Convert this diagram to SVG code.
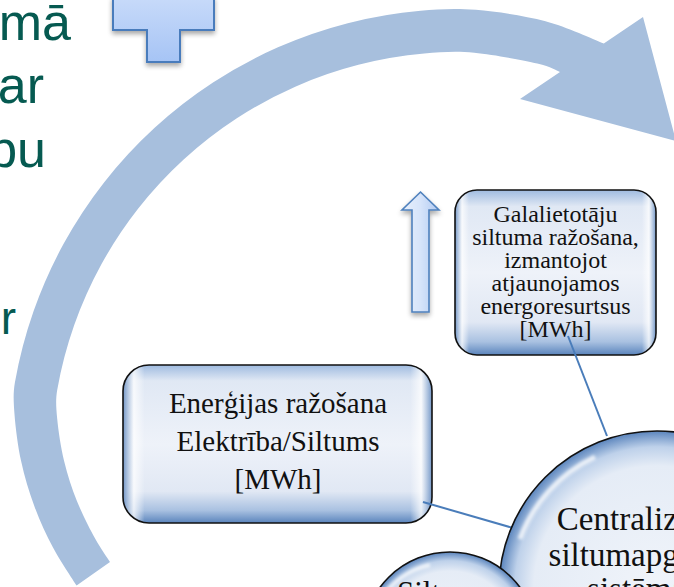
<svg xmlns="http://www.w3.org/2000/svg" width="674" height="587" viewBox="0 0 674 587">
<style>
.lt{font-family:"Liberation Sans",Arial,sans-serif;fill:#065a51}
.bt{font-family:"Liberation Serif","Times New Roman",serif;fill:#111;text-anchor:middle}
.edge{stroke:#111;stroke-width:1.6;fill:none}
.conn{stroke:#4a7dba;stroke-width:2;fill:none}
</style>
<defs>
<linearGradient id="boxV" x1="0" y1="0" x2="0" y2="1">
<stop offset="0" stop-color="#9fbbe0"/>
<stop offset="0.1" stop-color="#e0e8f4"/>
<stop offset="0.5" stop-color="#eef2f9"/>
<stop offset="0.8" stop-color="#e1e8f4"/>
<stop offset="0.92" stop-color="#a9c1e1"/>
<stop offset="1" stop-color="#5a84bc"/>
</linearGradient>
<linearGradient id="boxH" x1="0" y1="0" x2="1" y2="0">
<stop offset="0" stop-color="#5f88bf" stop-opacity="0.85"/>
<stop offset="0.035" stop-color="#ffffff" stop-opacity="0.75"/>
<stop offset="0.07" stop-color="#ffffff" stop-opacity="0"/>
<stop offset="0.93" stop-color="#ffffff" stop-opacity="0"/>
<stop offset="0.965" stop-color="#ffffff" stop-opacity="0.75"/>
<stop offset="1" stop-color="#5f88bf" stop-opacity="0.85"/>
</linearGradient>
<radialGradient id="circ" cx="0.5" cy="0.5" r="0.5">
<stop offset="0" stop-color="#f0f4fa"/>
<stop offset="0.78" stop-color="#e5ecf6"/>
<stop offset="0.9" stop-color="#bed1ea"/>
<stop offset="1" stop-color="#5b85bd"/>
</radialGradient>
<linearGradient id="crossG" x1="0" y1="0" x2="0" y2="1">
<stop offset="0" stop-color="#dbe7fc"/>
<stop offset="1" stop-color="#a6c4f5"/>
</linearGradient>
<linearGradient id="upG" x1="0" y1="0" x2="1" y2="0">
<stop offset="0" stop-color="#e8f0fc"/>
<stop offset="0.5" stop-color="#d6e4fa"/>
<stop offset="1" stop-color="#b0c9f1"/>
</linearGradient>
<filter id="sh" x="-30%" y="-30%" width="160%" height="160%">
<feGaussianBlur in="SourceAlpha" stdDeviation="2.5"/>
<feOffset dy="3" result="o"/>
<feComponentTransfer in="o" result="s"><feFuncA type="linear" slope="0.35"/></feComponentTransfer>
<feMerge><feMergeNode in="s"/><feMergeNode in="SourceGraphic"/></feMerge>
</filter>
<filter id="soft" x="-20%" y="-20%" width="140%" height="140%"><feGaussianBlur stdDeviation="1.5"/></filter>
</defs>

<g id="left-text">
<text class="lt" x="71" y="40" font-size="52" text-anchor="end">mā</text>
<text class="lt" x="44" y="103" font-size="52" text-anchor="end">ar</text>
<text class="lt" x="46" y="167" font-size="52" text-anchor="end">bu</text>
<text class="lt" x="16" y="334" font-size="46" text-anchor="end">r</text>
</g>

<g id="circular-arrow">
<path fill="#a7bfdd" d="M76.6,585.6 C72.7,579.3 60.1,560.8 53,547.5 C45.9,534.2 39.5,520.1 34.2,505.7 C28.9,491.3 24.4,476.3 21.1,461 C17.8,445.8 15.5,427.3 14.5,414.2 C13.5,401.1 13.1,393 14.9,382.5 A452,452 0 0 1 420.6,10.7 C438.5,9.1 455,8.05 475.8,9.8 C496.6,11.55 524.2,15.6 545.5,21.2 C566.8,26.8 594.1,39.7 603.8,43.4 L643,17 L676,141 L520,99 L560,72 C556.2,70.6 551.6,66.7 537.3,63.5 C523,60.3 493.1,54.4 474.3,52.7 C455.5,51.05 441.2,52.1 424.3,53.6 A409,409 0 0 0 57.2,390 C55.6,399.4 56.05,406.9 57.2,418.7 C58.35,430.5 60.8,447.25 64.1,461 C67.4,474.75 71.8,488.3 77,501.2 C82.2,514.1 89.6,528.5 95.1,538.6 C100.6,548.7 107.5,558.1 110,562 Z"/>
</g>

<g id="plus">
<path filter="url(#sh)" fill="url(#crossG)" stroke="#4a7cbc" stroke-width="2" d="M147,-40 L180,-40 L180,-3 L214,-3 L214,30 L180,30 L180,62 L147,62 L147,30 L113,30 L113,-3 L147,-3 Z"/>
</g>

<g id="up-arrow">
<path filter="url(#sh)" fill="url(#upG)" stroke="#4f81bd" stroke-width="1.6" d="M420.5,192 L439,210 L429,210 L429,312 L412,312 L412,210 L402,210 Z"/>
</g>

<g id="box-energy">
<rect x="123" y="365" width="309" height="158" rx="26" fill="url(#boxV)"/>
<rect x="123" y="365" width="309" height="158" rx="26" fill="url(#boxH)"/>
<rect x="123" y="365" width="309" height="158" rx="26" class="edge"/>
<text class="bt" x="278" y="413" font-size="29">Enerģijas ražošana</text>
<text class="bt" x="278" y="451" font-size="29">Elektrība/Siltums</text>
<text class="bt" x="278" y="489" font-size="29">[MWh]</text>
</g>

<g id="box-enduser">
<rect x="455" y="190" width="201" height="165" rx="22" fill="url(#boxV)"/>
<rect x="455" y="190" width="201" height="165" rx="22" fill="url(#boxH)"/>
<rect x="455" y="190" width="201" height="165" rx="22" class="edge"/>
<text class="bt" x="555.5" y="222" font-size="24">Galalietotāju</text>
<text class="bt" x="555.5" y="245" font-size="24">siltuma ražošana,</text>
<text class="bt" x="555.5" y="268" font-size="24">izmantojot</text>
<text class="bt" x="555.5" y="291" font-size="24">atjaunojamos</text>
<text class="bt" x="555.5" y="314" font-size="24">energoresurtsus</text>
<text class="bt" x="555.5" y="337" font-size="24">[MWh]</text>
</g>

<g id="connectors">
<line class="conn" x1="568" y1="336" x2="607" y2="436"/>
<line class="conn" x1="423" y1="502" x2="513" y2="528"/>
</g>

<g id="circle-central">
<circle cx="657" cy="589" r="158" fill="url(#circ)"/>
<path d="M520,539 A146,146 0 0 1 595,457" stroke="#ffffff" stroke-width="5" stroke-opacity="0.75" fill="none" filter="url(#soft)"/>
<circle cx="657" cy="589" r="158" class="edge"/>
<text class="bt" x="643" y="530" font-size="33">Centralizētās</text>
<text class="bt" x="643" y="566" font-size="33">siltumapgādes</text>
<text class="bt" x="643" y="600" font-size="33">sistēmas</text>
</g>

<g id="circle-heat">
<circle cx="450" cy="639" r="87" fill="url(#circ)"/>
<path d="M380,600 A78,78 0 0 1 430,565" stroke="#ffffff" stroke-width="4" stroke-opacity="0.7" fill="none" filter="url(#soft)"/>
<circle cx="450" cy="639" r="87" class="edge"/>
<text class="bt" x="397" y="603" font-size="31" style="text-anchor:start">Siltuma</text>
</g>
</svg>
